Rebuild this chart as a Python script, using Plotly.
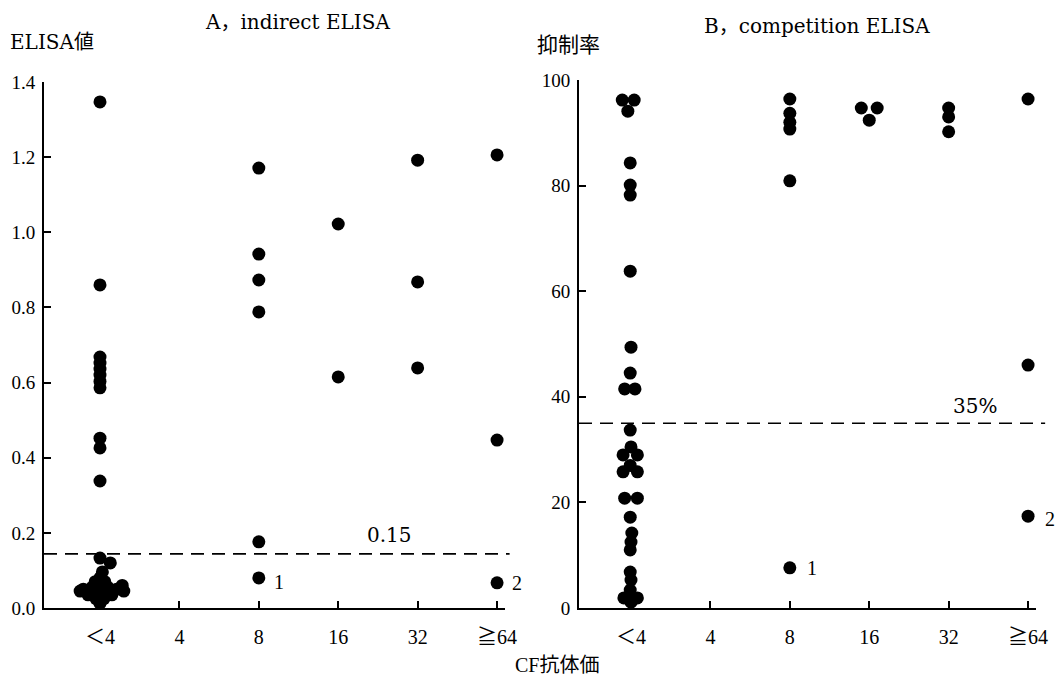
import plotly.graph_objects as go

categories = ["＜4", "4", "8", "16", "32", "≧64"]

# Panel A: indirect ELISA (ELISA値); jitter in category units
a_lt4 = [1.347, 0.86, 0.668, 0.652, 0.636, 0.62, 0.603, 0.586, 0.452, 0.426, 0.338,
         0.133, 0.12, 0.096, 0.08, 0.07, 0.07, 0.05, 0.055, 0.05, 0.055, 0.05, 0.045,
         0.035, 0.035, 0.035, 0.025, 0.025, 0.012, 0.045, 0.06]
a_lt4_jit = [0, 0, 0, 0, 0, 0, 0, 0, 0, 0, 0,
             0, 0.13, 0.03, 0, -0.06, 0.06, -0.21, -0.1, 0, 0.1, 0.21, 0.3,
             -0.15, 0, 0.15, -0.05, 0.05, 0, -0.25, 0.28]
a_8 = [1.171, 0.942, 0.873, 0.788, 0.176, 0.08]
a_16 = [1.022, 0.615]
a_32 = [1.192, 0.868, 0.639]
a_64 = [1.206, 0.447, 0.067]
a_cut = 0.144

# Panel B: competition ELISA (抑制率 %)
b_lt4 = [96.2, 96.2, 94.1, 84.3, 80.1, 78.2, 63.8, 49.4, 44.5, 41.5, 41.5, 33.7, 30.5,
         29, 29, 27, 25.8, 25.8, 20.8, 20.8, 17.2, 14.2, 12.5, 11, 6.8, 5.3, 3.4, 1.9, 1.9, 1.1]
b_lt4_jit = [-0.11, 0.04, -0.04, -0.01, -0.01, -0.01, -0.01, 0, -0.01, -0.08, 0.05, -0.01, 0,
             -0.1, 0.08, -0.01, -0.1, 0.08, -0.08, 0.08, -0.01, 0.01, 0, -0.01, -0.01, 0, -0.01, -0.09, 0.08, 0]
b_8 = [96.4, 93.7, 92, 90.7, 80.9, 7.6]
b_16 = [94.7, 94.7, 92.4]
b_16_jit = [-0.1, 0.1, 0]
b_32 = [94.7, 93, 90.2]
b_64 = [96.4, 46, 17.4]
b_cut = 35

FONT = "Liberation Serif, 'Noto Sans CJK JP'"
WFONT = "'DejaVu Serif', 'Noto Sans CJK JP'"
W, H = 1059, 676

def build(groups):
    xs, ys = [], []
    for idx, vals, jit in groups:
        for k, v in enumerate(vals):
            xs.append(idx + (jit[k] if jit else 0))
            ys.append(v)
    return xs, ys

ax_x, ax_y = build([(0, a_lt4, a_lt4_jit), (2, a_8, None), (3, a_16, None),
                    (4, a_32, None), (5, a_64, None)])
bx_x, bx_y = build([(0, b_lt4, b_lt4_jit), (2, b_8, None), (3, b_16, b_16_jit),
                    (4, b_32, None), (5, b_64, None)])

fig = go.Figure()
mk = dict(color="black", size=13, line=dict(width=0))
fig.add_trace(go.Scatter(x=ax_x, y=ax_y, mode="markers", marker=mk, xaxis="x", yaxis="y",
                         cliponaxis=False, showlegend=False))
fig.add_trace(go.Scatter(x=bx_x, y=bx_y, mode="markers", marker=mk, xaxis="x2", yaxis="y2",
                         cliponaxis=False, showlegend=False))

ybot = (H - 608) / H
xcommon = dict(tickmode="array", tickvals=list(range(6)), ticktext=categories,
               ticks="inside", ticklen=7, tickwidth=2, tickcolor="black", automargin=False,
               showline=True, linecolor="black", linewidth=2, showgrid=False, zeroline=False,
               tickfont=dict(family=FONT, size=20, color="black"), ticklabelstandoff=10)
ycommon = dict(ticks="inside", ticklen=7, tickwidth=2, tickcolor="black", automargin=False,
               showline=True, linecolor="black", linewidth=2, showgrid=False, zeroline=False,
               tickfont=dict(family=FONT, size=19, color="black"), ticklabelstandoff=3)

fig.update_layout(
    width=W, height=H, margin=dict(l=0, r=0, t=0, b=0, pad=0, autoexpand=False),
    paper_bgcolor="white", plot_bgcolor="white",
    xaxis=dict(domain=[44 / W, 505 / W], range=[-0.705, 5.1], anchor="y", **xcommon),
    yaxis=dict(domain=[ybot, (H - 82) / H], range=[0, 1.4], anchor="x",
               tickvals=[0, 0.2, 0.4, 0.6, 0.8, 1.0, 1.2, 1.4],
               ticktext=["0.0", "0.2", "0.4", "0.6", "0.8", "1.0", "1.2", "1.4"], **ycommon),
    xaxis2=dict(domain=[579 / W, 1036 / W], range=[-0.655, 5.1], anchor="y2", **xcommon),
    yaxis2=dict(domain=[ybot, (H - 80) / H], range=[0, 100], anchor="x2",
                tickvals=[0, 20, 40, 60, 80, 100], **ycommon),
)

dash = dict(color="black", width=1.6, dash="13px,8px")
fig.add_shape(type="line", xref="x domain", yref="y", x0=0, x1=1.01, y0=a_cut, y1=a_cut, line=dash)
fig.add_shape(type="line", xref="x2 domain", yref="y2", x0=0, x1=1.02, y0=b_cut, y1=b_cut, line=dash)

tf = dict(family=WFONT, size=20, color="black")
nf = dict(family=FONT, size=20, color="black")
ann = [
    dict(text="A，indirect ELISA", x=297 / W, y=1 - 22 / H, xref="paper", yref="paper", font=tf),
    dict(text="B，competition ELISA", x=817 / W, y=1 - 26 / H, xref="paper", yref="paper", font=tf),
    dict(text="ELISA値", x=8 / W, y=1 - 42 / H, xref="paper", yref="paper", xanchor="left",
         font=dict(family=WFONT, size=20, color="black")),
    dict(text="抑制率", x=535 / W, y=1 - 45 / H, xref="paper", yref="paper", xanchor="left",
         font=dict(family=WFONT, size=21, color="black")),
    dict(text="CF抗体価", x=557 / W, y=1 - 665 / H, xref="paper", yref="paper", font=nf),
    dict(text="0.15", x=3.65, y=a_cut, xref="x", yref="y", yshift=19, font=tf),
    dict(text="35%", x=4.33, y=b_cut, xref="x2", yref="y2", yshift=17, font=tf),
    dict(text="1", x=2, y=a_8[-1], xref="x", yref="y", xshift=20, yshift=-4, font=nf),
    dict(text="2", x=5, y=a_64[-1], xref="x", yref="y", xshift=20, font=nf),
    dict(text="1", x=2, y=b_8[-1], xref="x2", yref="y2", xshift=22, font=nf),
    dict(text="2", x=5, y=b_64[-1], xref="x2", yref="y2", xshift=22, yshift=-3, font=nf),
]
for a in ann:
    a.setdefault("showarrow", False)
    a.setdefault("yanchor", "middle")
    a.setdefault("xanchor", "center")
    fig.add_annotation(**a)

fig.write_html("out.html", config={"displayModeBar": False},
               post_script="document.body.style.margin='0';document.body.style.overflow='hidden';")
